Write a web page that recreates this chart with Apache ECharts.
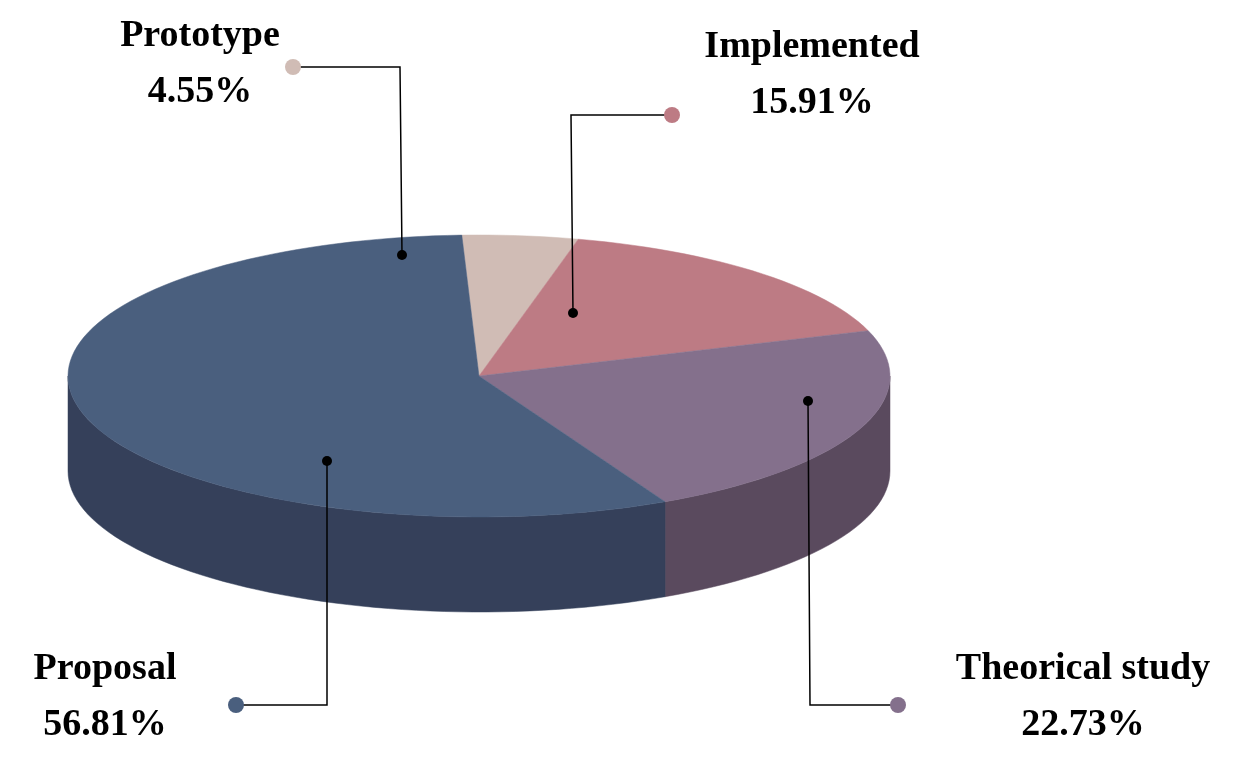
<!DOCTYPE html>
<html><head><meta charset="utf-8">
<script src="https://cdn.jsdelivr.net/npm/echarts@6/dist/echarts.min.js"></script>
<style>html,body{margin:0;background:#fff}#chart-container{width:1257px;height:773px}</style>
</head><body><div id="chart-container"></div>
<script>
var categories = ['Prototype', 'Implemented', 'Theorical study', 'Proposal'];
var values = [4.55, 15.91, 22.73, 56.81];
var topColors = ['#d0bcb5', '#bd7b84', '#84708c', '#4a5f7e'];
var sideColors = ['#9e8c86', '#8e5a62', '#5a4a5e', '#35405a'];
// leader geometry: dot on slice, elbow, end marker, label centre
var leaders = [
	{ dot: [402, 255], elbow: [400, 67], end: [293, 67], text: [200, 64] },
	{ dot: [573, 313], elbow: [571, 115], end: [672, 115], text: [812, 75] },
	{ dot: [808, 401], elbow: [810, 705], end: [898, 705], text: [1083, 697] },
	{ dot: [327, 461], elbow: [327, 705], end: [236, 705], text: [105, 697] }
];

var cx = 479, cy = 376, rx = 411, ry = 141, depth = 95, startDeg = -92.4;
var total = values.reduce(function (a, b) { return a + b; }, 0);
var deg = Math.PI / 180;

function sliceRange(i) {
	var s = startDeg;
	for (var k = 0; k < i; k++) s += values[k] / total * 360;
	return [s, s + values[i] / total * 360];
}
function pt(t, dy) { return [cx + rx * Math.cos(t * deg), cy + ry * Math.sin(t * deg) + (dy || 0)]; }
function arc(a, b, dy) {
	var pts = [], n = Math.max(2, Math.ceil((b - a) / 2));
	for (var j = 0; j <= n; j++) pts.push(pt(a + (b - a) * j / n, dy));
	return pts;
}

var chartDom = document.getElementById('chart-container');
var myChart = echarts.init(chartDom);
var seriesData = values.map(function (v, i) { return { name: categories[i], value: v }; });
var labelFont = 'bold 38px "Liberation Serif", "Times New Roman", serif';

var option = {
	animation: false,
	series: [
		{
			type: 'custom', coordinateSystem: 'none', data: seriesData, z: 1,
			renderItem: function (params, api) {
				var r = sliceRange(params.dataIndex), children = [];
				// front visible part of the rim: angles 0..180 (also 360..540)
				[[0, 180], [360, 540]].forEach(function (w) {
					var a = Math.max(r[0], w[0]), b = Math.min(r[1], w[1]);
					if (b > a) {
						var topArc = arc(a, b, 0), botArc = arc(a, b, depth).reverse();
						children.push({ type: 'polygon', shape: { points: topArc.concat(botArc) },
							style: { fill: sideColors[params.dataIndex], stroke: sideColors[params.dataIndex], lineWidth: 0.5 } });
					}
				});
				return { type: 'group', children: children };
			}
		},
		{
			type: 'custom', coordinateSystem: 'none', data: seriesData, z: 2,
			renderItem: function (params, api) {
				var r = sliceRange(params.dataIndex);
				var pts = [[cx, cy]].concat(arc(r[0], r[1], 0));
				return { type: 'polygon', shape: { points: pts },
					style: { fill: topColors[params.dataIndex], stroke: topColors[params.dataIndex], lineWidth: 0.5 } };
			}
		},
		{
			type: 'custom', coordinateSystem: 'none', data: seriesData, z: 3,
			renderItem: function (params, api) {
				var i = params.dataIndex, L = leaders[i];
				return { type: 'group', children: [
					{ type: 'polyline', shape: { points: [L.dot, L.elbow, L.end] }, style: { stroke: '#000', lineWidth: 1.5, fill: null } },
					{ type: 'circle', shape: { cx: L.dot[0], cy: L.dot[1], r: 5 }, style: { fill: '#000' } },
					{ type: 'circle', shape: { cx: L.end[0], cy: L.end[1], r: 8 }, style: { fill: topColors[i] } },
					{ type: 'text', x: L.text[0], y: L.text[1], style: {
						text: categories[i] + '\n' + values[i].toFixed(2) + '%', font: labelFont, lineHeight: 56,
						fill: '#000', align: 'center', verticalAlign: 'middle' } }
				] };
			}
		}
	]
};
myChart.setOption(option);
window.addEventListener('resize', function () { myChart.resize(); });
</script></body></html>
